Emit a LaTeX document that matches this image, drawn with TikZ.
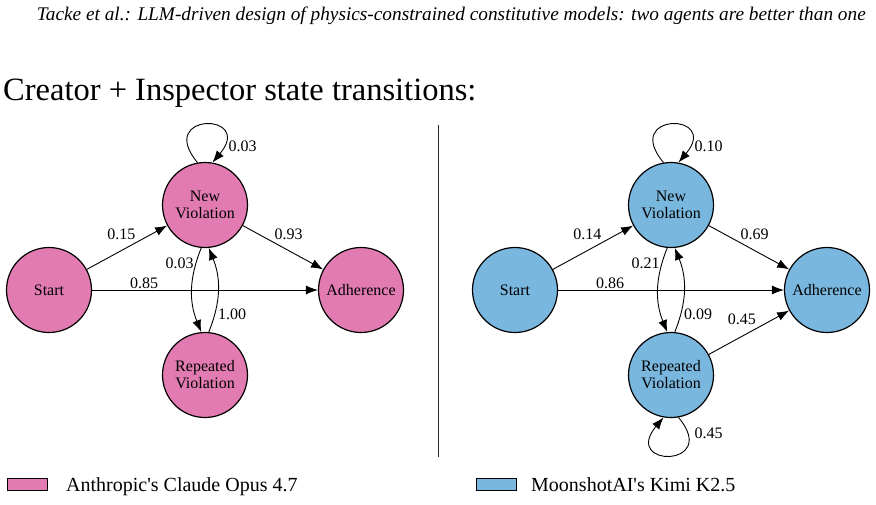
\documentclass[tikz,border=0pt]{standalone}
\usepackage{fontspec}
\setmainfont{Liberation Serif}
\usetikzlibrary{arrows.meta}
\definecolor{claudepink}{HTML}{E27BB1}
\definecolor{kimiblue}{HTML}{79B7DE}

\begin{document}
\begin{tikzpicture}[
  x=1pt, y=-1pt,
  every node/.style={font=\rmfamily\fontsize{16}{17}\selectfont, align=center},
  statenode/.style={circle, draw=black, line width=1.2pt, minimum size=85pt, inner sep=0pt},
  arr/.style={-{Latex[length=12pt,width=9pt]}, line width=0.9pt},
  lbl/.style={inner sep=1pt},
  keybox/.style={draw=black, line width=1pt, minimum width=40pt, minimum height=12pt, inner sep=0pt},
  keytext/.style={anchor=base west, inner sep=0pt, font=\rmfamily\fontsize{20}{22}\selectfont}
]
\useasboundingbox (0,0) rectangle (876,504);

% titles
\node[anchor=base east, inner sep=0pt, font=\rmfamily\itshape\fontsize{19.3}{21}\selectfont] (header) at (866,20)
  {Tacke et al.: LLM-driven design of physics-constrained constitutive models: two agents are better than one};
\node[anchor=base west, inner sep=0pt, font=\rmfamily\fontsize{32.5}{36}\selectfont] (title) at (3,100) {Creator + Inspector state transitions:};

% left graph (Claude)
\node[statenode, fill=claudepink] (startA) at (49,290) {Start};
\node[statenode, fill=claudepink] (newA) at (205,205) {New\\Violation};
\node[statenode, fill=claudepink] (adhA) at (361,290) {Adherence};
\node[statenode, fill=claudepink] (repA) at (205,375) {Repeated\\Violation};
\draw[arr] (startA) -- node[lbl, pos=.43, above=9pt] {0.15} (newA);
\draw[arr] (newA) -- node[lbl, pos=.57, above=9pt] {0.93} (adhA);
\draw[arr] (startA) -- node[lbl, pos=.23, above=0pt] {0.85} (adhA);
\draw[arr] (newA.-95) to[bend right=22] node[lbl, pos=.17, left=1pt] {0.03} (repA.95);
\draw[arr] (repA.85) to[bend right=22] node[lbl, pos=.2, right=2pt] {1.00} (newA.-85);
\draw[arr] (newA.100) .. controls +(130:66pt) and +(50:66pt) .. (newA.80) node[lbl, pos=.88, right=5pt] {0.03};

% divider
\draw[line width=1pt, black!85] (438,125) -- (438,457);

% right graph (Kimi)
\node[statenode, fill=kimiblue] (startB) at (515,290) {Start};
\node[statenode, fill=kimiblue] (newB) at (671,205) {New\\Violation};
\node[statenode, fill=kimiblue] (adhB) at (827,290) {Adherence};
\node[statenode, fill=kimiblue] (repB) at (671,375) {Repeated\\Violation};
\draw[arr] (startB) -- node[lbl, pos=.43, above=9pt] {0.14} (newB);
\draw[arr] (newB) -- node[lbl, pos=.57, above=9pt] {0.69} (adhB);
\draw[arr] (startB) -- node[lbl, pos=.23, above=0pt] {0.86} (adhB);
\draw[arr] (repB) -- node[lbl, pos=.41, above=10pt] {0.45} (adhB);
\draw[arr] (newB.-95) to[bend right=22] node[lbl, pos=.17, left=1pt] {0.21} (repB.95);
\draw[arr] (repB.85) to[bend right=22] node[lbl, pos=.2, right=2pt] {0.09} (newB.-85);
\draw[arr] (newB.100) .. controls +(130:66pt) and +(50:66pt) .. (newB.80) node[lbl, pos=.88, right=5pt] {0.10};
\draw[arr] (repB.-80) .. controls +(-50:66pt) and +(-130:66pt) .. (repB.-100) node[lbl, pos=.12, right=5pt] {0.45};

% legend
\node[keybox, fill=claudepink] (keyA) at (27,484) {};
\node[keytext] (keyAtext) at (66,491) {Anthropic\textquotesingle s Claude Opus 4.7};
\node[keybox, fill=kimiblue] (keyB) at (496,484) {};
\node[keytext] (keyBtext) at (531,491) {MoonshotAI\textquotesingle s Kimi K2.5};
\end{tikzpicture}
\end{document}
